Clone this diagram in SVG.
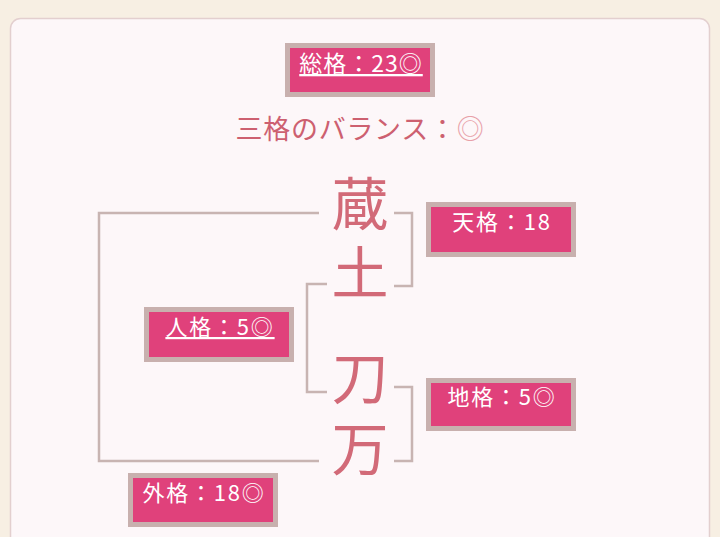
<svg xmlns="http://www.w3.org/2000/svg" width="720" height="537" viewBox="0 0 720 537">
<style>
.box{fill:#e0417b;stroke:#c8b0ae;stroke-width:5}
.bt{font-family:"Noto Sans CJK JP","Noto Sans",sans-serif;font-size:22px;fill:#ffffff;text-anchor:middle;letter-spacing:1.8px}
.big{font-family:"Noto Sans CJK JP",sans-serif;font-size:57px;fill:#d26a78;text-anchor:middle}
.ln{fill:none;stroke:#c8b4b2;stroke-width:2.5}
</style>
<rect x="0" y="0" width="720" height="537" fill="#f7efe3"/>
<rect x="10.5" y="18.5" width="699" height="540" rx="10" fill="#fdf7f9" stroke="#e3cfcf" stroke-width="1.5"/>
<g id="sokaku">
<rect class="box" x="287.5" y="45.5" width="145" height="49"/>
<text class="bt" x="361" y="72" style="font-size:23px;letter-spacing:1px" text-decoration="underline">総格：23◎</text>
</g>
<text x="360" y="139" font-family="Noto Sans CJK JP,sans-serif" font-size="27" fill="#cd6070" text-anchor="middle" letter-spacing="0.7">三格のバランス：<tspan fill="#e8a0a8">◎</tspan></text>
<g id="connectors">
<polyline class="ln" points="319,213 99,213 99,461 319,461"/>
<polyline class="ln" points="394,213 412,213 412,286 394,286"/>
<polyline class="ln" points="327,284 307,284 307,392 327,392"/>
<polyline class="ln" points="394,387 412,387 412,461 394,461"/>
</g>
<g id="char1"><text class="big" x="360" y="225">蔵</text></g>
<g id="char2"><text class="big" x="360" y="294">土</text></g>
<g id="char3"><text class="big" x="360" y="399">刀</text></g>
<g id="char4"><text class="big" x="360" y="470">万</text></g>
<g id="tenkaku">
<rect class="box" x="428.5" y="204.5" width="145" height="50"/>
<text class="bt" x="502" y="229.5">天格：18</text>
</g>
<g id="jinkaku">
<rect class="box" x="146.5" y="309.5" width="145" height="50"/>
<text class="bt" x="220" y="335" text-decoration="underline">人格：5◎</text>
</g>
<g id="chikaku">
<rect class="box" x="428.5" y="380.5" width="145" height="48"/>
<text class="bt" x="502" y="404.5">地格：5◎</text>
</g>
<g id="gaikaku">
<rect class="box" x="130.5" y="475.5" width="145" height="49"/>
<text class="bt" x="204" y="501">外格：18◎</text>
</g>
</svg>
